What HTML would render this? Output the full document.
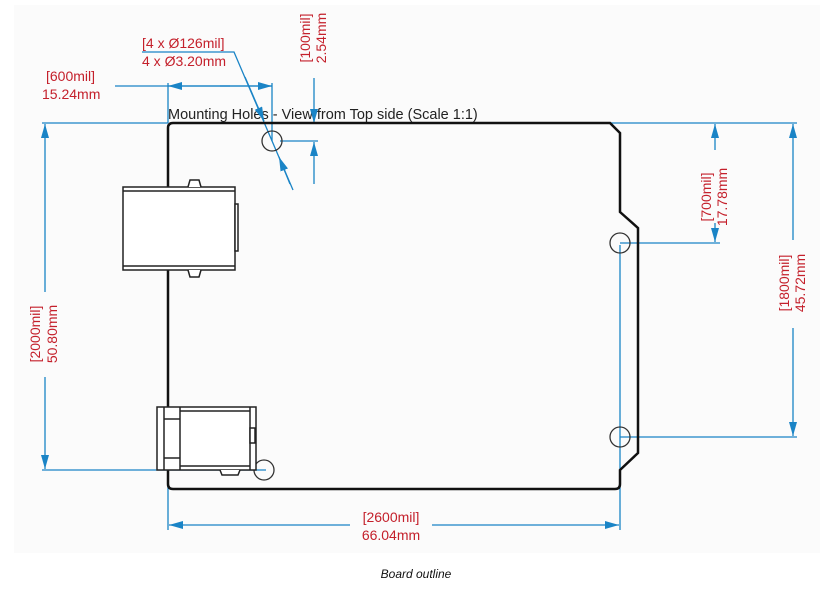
<!DOCTYPE html>
<html><head><meta charset="utf-8"><style>
html,body{margin:0;padding:0;background:#fff;width:839px;height:604px;overflow:hidden}
svg{display:block}
</style></head><body>
<svg width="839" height="604" viewBox="0 0 839 604" xmlns="http://www.w3.org/2000/svg">
<defs>
<marker id="a" viewBox="0 0 14 8" refX="14" refY="4" markerWidth="14" markerHeight="8" markerUnits="userSpaceOnUse" orient="auto"><path d="M0,0 L14,4 L0,8 z" fill="#1a84c6"/></marker>
</defs>
<rect x="14" y="5" width="806" height="548" fill="#fbfbfb"/>
<g font-family="Liberation Sans, sans-serif" font-size="14" fill="#c4202b">
<text x="142" y="48">[4 x Ø126mil]</text>
<text x="142" y="66">4 x Ø3.20mm</text>
<text x="46" y="81">[600mil]</text>
<text x="42" y="99">15.24mm</text>
<text transform="translate(310,38) rotate(-90)" text-anchor="middle">[100mil]</text>
<text transform="translate(326,38) rotate(-90)" text-anchor="middle">2.54mm</text>
<text transform="translate(711,197) rotate(-90)" text-anchor="middle">[700mil]</text>
<text transform="translate(727,197) rotate(-90)" text-anchor="middle">17.78mm</text>
<text transform="translate(789,283) rotate(-90)" text-anchor="middle">[1800mil]</text>
<text transform="translate(805,283) rotate(-90)" text-anchor="middle">45.72mm</text>
<text transform="translate(40,334) rotate(-90)" text-anchor="middle">[2000mil]</text>
<text transform="translate(57,334) rotate(-90)" text-anchor="middle">50.80mm</text>
<text x="391" y="522" text-anchor="middle">[2600mil]</text>
<text x="391" y="540" text-anchor="middle">66.04mm</text>
</g>
<text x="168" y="119" font-family="Liberation Sans, sans-serif" font-size="14.5" fill="#222">Mounting Holes - View from Top side (Scale 1:1)</text>
<g stroke="#1a84c6" stroke-width="1.3" fill="none">
<path d="M142,52 H234 L293,190"/>
<line x1="245" y1="77" x2="264" y2="121" marker-end="url(#a)"/>
<line x1="290" y1="184" x2="279" y2="157" marker-end="url(#a)"/>
<line x1="115" y1="86" x2="272" y2="86"/>
<line x1="230" y1="86" x2="168" y2="86" marker-end="url(#a)"/>
<line x1="220" y1="86" x2="272" y2="86" marker-end="url(#a)"/>
<line x1="168" y1="83" x2="168" y2="123"/>
<line x1="272" y1="83" x2="272" y2="141"/>
<line x1="314" y1="78" x2="314" y2="123" marker-end="url(#a)"/>
<line x1="280" y1="141" x2="318" y2="141"/>
<line x1="314" y1="184" x2="314" y2="142" marker-end="url(#a)"/>
<line x1="42" y1="123" x2="168" y2="123"/>
<line x1="45" y1="292" x2="45" y2="124" marker-end="url(#a)"/>
<line x1="45" y1="377" x2="45" y2="469" marker-end="url(#a)"/>
<line x1="42" y1="470" x2="266" y2="470"/>
<line x1="168" y1="470" x2="168" y2="530"/>
<line x1="620" y1="245" x2="620" y2="530"/>
<line x1="350" y1="525" x2="169" y2="525" marker-end="url(#a)"/>
<line x1="432" y1="525" x2="619" y2="525" marker-end="url(#a)"/>
<line x1="611" y1="123" x2="797" y2="123"/>
<line x1="715" y1="150" x2="715" y2="124" marker-end="url(#a)"/>
<line x1="715" y1="223" x2="715" y2="242" marker-end="url(#a)"/>
<line x1="620" y1="243" x2="720" y2="243"/>
<line x1="793" y1="240" x2="793" y2="124" marker-end="url(#a)"/>
<line x1="793" y1="328" x2="793" y2="436" marker-end="url(#a)"/>
<line x1="620" y1="437" x2="797" y2="437"/>
</g>
<path d="M168,128 Q168,123 173,123 H610 L620,133 V212 L638,228 V453 L620,470 V484 Q620,489 615,489 H173 Q168,489 168,484 Z" fill="none" stroke="#111" stroke-width="2.5"/>
<g fill="none" stroke="#333" stroke-width="1.3">
<circle cx="272" cy="141" r="10"/>
<circle cx="620" cy="243" r="10"/>
<circle cx="620" cy="437" r="10"/>
<circle cx="264" cy="470" r="10"/>
</g>
<g stroke="#222" stroke-width="1.5" fill="#fff">
<rect x="123" y="187" width="112" height="83"/>
<line x1="123" y1="191" x2="235" y2="191"/>
<line x1="123" y1="266" x2="235" y2="266"/>
<rect x="235" y="204" width="3" height="47"/>
<path d="M188,187 L190,180 H199 L201,187"/>
<path d="M188,270 L190,277 H199 L201,270"/>
<rect x="157" y="407" width="99" height="63"/>
<line x1="164" y1="407" x2="164" y2="470"/>
<line x1="180" y1="407" x2="180" y2="470"/>
<line x1="164" y1="419" x2="180" y2="419"/>
<line x1="164" y1="458" x2="180" y2="458"/>
<line x1="250" y1="407" x2="250" y2="470"/>
<line x1="180" y1="411" x2="250" y2="411"/>
<line x1="180" y1="466" x2="250" y2="466"/>
<rect x="250" y="428" width="5" height="15"/>
<path d="M220,470 L222,475 H238 L240,470"/>
</g>
<text x="416" y="578" text-anchor="middle" font-family="Liberation Sans, sans-serif" font-size="12" font-style="italic" fill="#111">Board outline</text>
</svg>
</body></html>
